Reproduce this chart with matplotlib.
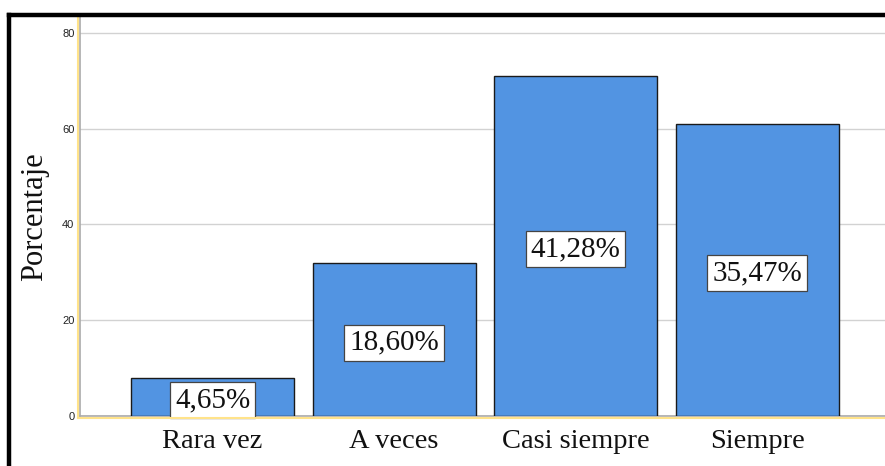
import matplotlib.pyplot as plt
from matplotlib.lines import Line2D

categories = ["Rara vez", "A veces", "Casi siempre", "Siempre"]
counts = [8, 32, 71, 61]
pct_labels = ["4,65%", "18,60%", "41,28%", "35,47%"]
y_ticks = [0, 20, 40, 60, 80]

BAR_COLOR = "#5294e2"
SERIF = ["Liberation Serif", "DejaVu Serif"]


def draw_chart():
    fig = plt.figure(figsize=(8.85, 4.66), dpi=100)
    W, H = 885, 466

    # plot area in pixels: left spine x=80, baseline y=416, top y=17
    left, bottom, top, right = 80, 416, 17, 885
    ax = fig.add_axes([left / W, 1 - bottom / H, (right - left) / W, (bottom - top) / H])

    x = list(range(len(categories)))
    ax.bar(x, counts, width=0.898, color=BAR_COLOR, edgecolor="#1a1a1a",
           linewidth=1.0, zorder=3)

    ax.set_xlim(-0.73, 3.705)
    ax.set_ylim(0, 83.3)

    ax.set_yticks(y_ticks)
    ax.set_yticklabels([str(t) for t in y_ticks], family="Liberation Sans",
                       fontsize=8, color="#222222")
    ax.tick_params(axis="y", length=0, pad=4)
    ax.set_xticks(x)
    ax.set_xticklabels(categories, family=SERIF, fontsize=20.5, color="#111111")
    ax.tick_params(axis="x", length=0, pad=9)

    ax.yaxis.grid(True, color="#d2d2d2", linewidth=1.0, zorder=0)
    ax.set_axisbelow(True)

    for side in ["top", "right"]:
        ax.spines[side].set_visible(False)
    for side in ["left", "bottom"]:
        ax.spines[side].set_color("#aaaaaa")
        ax.spines[side].set_linewidth(1.2)

    ax.set_ylabel("Porcentaje", family=SERIF, fontsize=22, color="#111111")
    ax.yaxis.set_label_coords(-31 / (right - left), 0.5)

    for xi, h, lab in zip(x, counts, pct_labels):
        ax.annotate(lab, (xi, h / 2), xytext=(0, -2.5), textcoords="offset points",
                    ha="center", va="center", family=SERIF, fontsize=21,
                    color="#111111", zorder=5,
                    bbox=dict(boxstyle="square,pad=0.17", fc="white",
                              ec="#444444", lw=0.9))

    # yellow selection outline just outside the axes
    fig.add_artist(Line2D([(left - 2) / W, (left - 2) / W], [1 - (bottom + 2) / H, 1 - 17 / H],
                          color="#ffe38a", lw=1.5))
    fig.add_artist(Line2D([(left - 2) / W, 1.0], [1 - (bottom + 2) / H, 1 - (bottom + 2) / H],
                          color="#ffe38a", lw=1.5))

    # black frame around the chart (cut off at right and bottom)
    fig.add_artist(Line2D([9 / W, 9 / W], [0, 1 - 15 / H], color="black", lw=3.2,
                          solid_capstyle="projecting"))
    fig.add_artist(Line2D([9 / W, 1.0], [1 - 15 / H, 1 - 15 / H], color="black", lw=3.2,
                          solid_capstyle="projecting"))

    fig.savefig("out.png", dpi=100, facecolor="white")


def main():
    draw_chart()


if __name__ == "__main__":
    main()
